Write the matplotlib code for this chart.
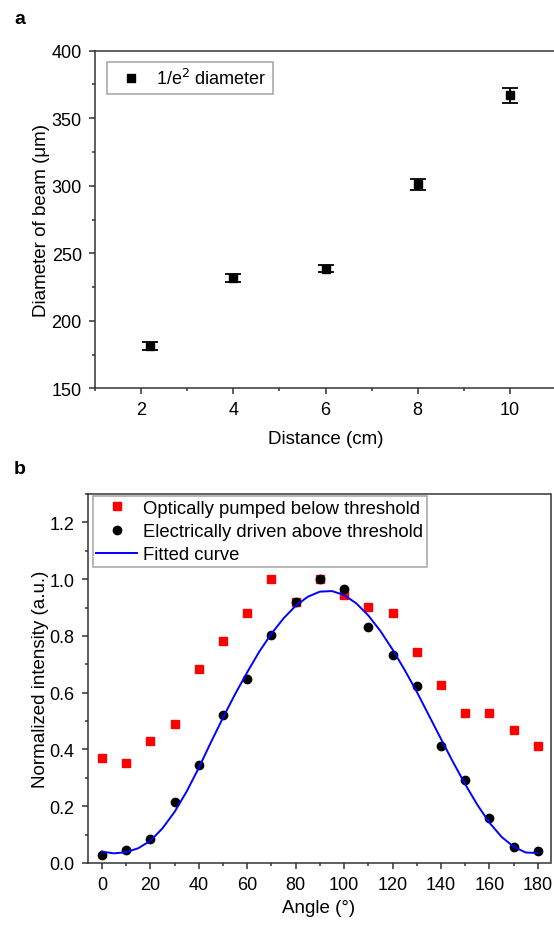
import matplotlib
matplotlib.use('Agg')
import matplotlib.pyplot as plt
from matplotlib.ticker import MultipleLocator, FormatStrFormatter

plt.rcParams['font.family'] = ['Liberation Sans', 'DejaVu Sans']

# panel a: beam diameter vs distance
distance = [2.2, 4, 6, 8, 10]
diameter = [181, 231.5, 238.5, 301, 367]
diameter_err = [3, 3, 2.5, 4, 5.5]

# panel b: angular intensity
angle = [0, 10, 20, 30, 40, 50, 60, 70, 80, 90, 100, 110, 120, 130, 140, 150, 160, 170, 180]
optical = [0.371, 0.353, 0.431, 0.488, 0.684, 0.783, 0.882, 1.0, 0.921, 1.0,
           0.943, 0.902, 0.882, 0.744, 0.626, 0.527, 0.527, 0.470, 0.411]
electrical = [0.029, 0.046, 0.086, 0.216, 0.344, 0.520, 0.649, 0.803, 0.920, 1.0,
              0.965, 0.833, 0.734, 0.624, 0.413, 0.291, 0.158, 0.055, 0.041]
fit_angle = [0, 5, 10, 15, 20, 25, 30, 35, 40, 45, 50, 55, 60, 65, 70, 75, 80, 85, 90,
             95, 100, 105, 110, 115, 120, 125, 130, 135, 140, 145, 150, 155, 160, 165,
             170, 175, 180]
fit_curve = [0.040, 0.034, 0.038, 0.052, 0.078, 0.122, 0.180, 0.252, 0.335, 0.425,
             0.512, 0.595, 0.672, 0.745, 0.808, 0.862, 0.906, 0.938, 0.956, 0.958,
             0.944, 0.915, 0.872, 0.817, 0.752, 0.680, 0.603, 0.520, 0.437, 0.355,
             0.277, 0.205, 0.142, 0.092, 0.057, 0.037, 0.035]

W, H = 554, 929
fig = plt.figure(figsize=(W / 100, H / 100), dpi=100)

def style(ax):
    for s in ax.spines.values():
        s.set_linewidth(1.1)
        s.set_color('#333333')
    ax.tick_params(which='both', direction='out', width=1.1, labelsize=13,
                   top=False, right=False, color='#333333')
    ax.tick_params(which='major', length=4.5, pad=5)
    ax.tick_params(which='minor', length=2.5)

# ---- panel a
ax1 = fig.add_axes([95 / W, 1 - 389.3 / H, (556 - 95) / W, (389.3 - 51.7) / H])
ax1.errorbar(distance, diameter, yerr=diameter_err, fmt='none', ecolor='black',
             elinewidth=1.3, capsize=5.6, capthick=1.3)
ax1.plot(distance, diameter, 's', color='black', ms=5.5, label='1/e$^2$ diameter')
ax1.set_xlim(1, 11)
ax1.set_ylim(150, 400)
ax1.xaxis.set_major_locator(MultipleLocator(2))
ax1.xaxis.set_minor_locator(MultipleLocator(1))
ax1.yaxis.set_major_locator(MultipleLocator(50))
ax1.yaxis.set_minor_locator(MultipleLocator(25))
ax1.set_xlabel('Distance (cm)', fontsize=13.5, labelpad=8)
ax1.set_ylabel('Diameter of beam (\u03bcm)', fontsize=13.5, labelpad=1)
style(ax1)
leg1 = ax1.legend(loc='upper left', fontsize=13, frameon=True, fancybox=False,
                  edgecolor='#8c8c8c', borderpad=0.35, handletextpad=0.4,
                  borderaxespad=0, bbox_to_anchor=(0.0254, 0.9674))
leg1.get_frame().set_linewidth(1.1)

# ---- panel b
ax2 = fig.add_axes([87.6 / W, 1 - 864 / H, (550.5 - 87.6) / W, (864 - 495) / H])
ax2.plot(angle, optical, 's', color='#ff0000', ms=5.8, label='Optically pumped below threshold')
ax2.plot(angle, electrical, 'o', color='black', ms=6, label='Electrically driven above threshold')
ax2.plot(fit_angle, fit_curve, '-', color='#0000ff', lw=1.4, label='Fitted curve')
ax2.set_xlim(-5.9, 185.2)
ax2.set_ylim(0, 1.3)
ax2.xaxis.set_major_locator(MultipleLocator(20))
ax2.xaxis.set_minor_locator(MultipleLocator(10))
ax2.yaxis.set_major_locator(MultipleLocator(0.2))
ax2.yaxis.set_minor_locator(MultipleLocator(0.1))
ax2.yaxis.set_major_formatter(FormatStrFormatter('%.1f'))
ax2.set_xlabel('Angle (\u00b0)', fontsize=13.5, labelpad=4)
ax2.set_ylabel('Normalized intensity (a.u.)', fontsize=13.5, labelpad=0)
style(ax2)
leg2 = ax2.legend(loc='upper left', fontsize=13.3, frameon=True, fancybox=False,
                  edgecolor='#8c8c8c', borderpad=0.2, handlelength=2.2,
                  handletextpad=0.35, labelspacing=0.35, borderaxespad=0,
                  bbox_to_anchor=(0.0108, 0.995))
leg2.get_frame().set_linewidth(1.1)

fig.text(14 / W, 1 - 20 / H, 'a', fontsize=14, fontweight='bold', va='center')
fig.text(14 / W, 1 - 470 / H, 'b', fontsize=14, fontweight='bold', va='center')

fig.savefig('out.png', dpi=100)
